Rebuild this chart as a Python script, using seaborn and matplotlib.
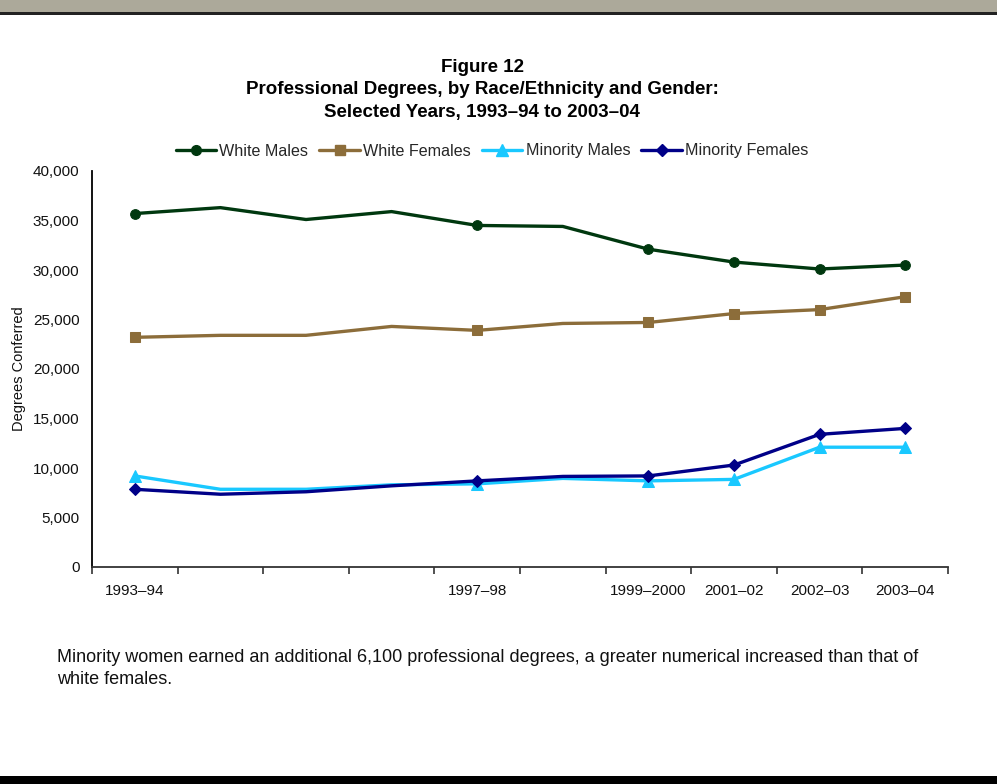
import numpy as np
import pandas as pd
import seaborn as sns
import matplotlib
matplotlib.use("Agg")
import matplotlib.pyplot as plt
from matplotlib.lines import Line2D
from matplotlib.patches import Rectangle

years = ["1993–94", "1994–95", "1995–96", "1996–97", "1997–98", "1998–99",
         "1999–2000", "2001–02", "2002–03", "2003–04"]
shown_labels = ["1993–94", "", "", "", "1997–98", "", "1999–2000", "2001–02", "2002–03", "2003–04"]
marked_idx = [0, 4, 6, 7, 8, 9]

white_males = [35700, 36300, 35100, 35900, 34500, 34400, 32100, 30800, 30100, 30500]
white_females = [23200, 23400, 23400, 24300, 23900, 24600, 24700, 25600, 26000, 27300]
minority_males = [9200, 7850, 7850, 8300, 8400, 8950, 8700, 8850, 12100, 12100]
minority_females = [7850, 7350, 7600, 8200, 8700, 9150, 9200, 10300, 13400, 14000]

series_names = ["White Males", "White Females", "Minority Males", "Minority Females"]
colors = ["#00380f", "#8c6d3a", "#19c8ff", "#000088"]
markers = ["o", "s", "^", "D"]
msizes = [7, 7.5, 8, 6.5]

df = pd.DataFrame({
    "pos": list(range(len(years))) * 4,
    "value": white_males + white_females + minority_males + minority_females,
    "series": sum([[n] * len(years) for n in series_names], []),
})

sns.set_theme(style="white")
plt.rcParams["font.family"] = ["Liberation Sans", "DejaVu Sans"]

fig = plt.figure(figsize=(9.97, 7.84), dpi=100)
ax = fig.add_axes([92 / 997, (784 - 567) / 784, (948 - 92) / 997, (567 - 171) / 784])

for name, c, m, ms in zip(series_names, colors, markers, msizes):
    sub = df[df["series"] == name]
    sns.lineplot(data=sub, x="pos", y="value", ax=ax, color=c, lw=2.4,
                 marker=m, markersize=ms, markevery=marked_idx,
                 markeredgecolor=c, markerfacecolor=c, legend=False)

ax.set_xlim(-0.5, len(years) - 0.5)
ax.set_ylim(0, 40000)
ax.set_yticks(np.arange(0, 40001, 5000))
ax.set_yticklabels([f"{v:,}" for v in range(0, 40001, 5000)], fontsize=11, color="#111111")
ax.set_xticks(np.arange(-0.5, len(years), 1.0))
ax.set_xticklabels([])
ax.set_xticks(range(len(years)), minor=True)
ax.set_xticklabels(shown_labels, minor=True, fontsize=11, color="#111111")
ax.tick_params(axis="x", which="major", direction="out", length=5, width=1.2, color="#333333", bottom=True)
ax.tick_params(axis="x", which="minor", length=0, pad=12)
ax.tick_params(axis="y", length=0, pad=9)
ax.set_xlabel("")
ax.set_ylabel("Degrees Conferred", fontsize=10.5, color="#111111")
ax.yaxis.set_label_coords((26 - 92) / 856, 0.5)
ax.grid(False)
for s in ["top", "right"]:
    ax.spines[s].set_visible(False)
ax.spines["left"].set_color("#000000")
ax.spines["left"].set_linewidth(1.3)
ax.spines["bottom"].set_color("#333333")
ax.spines["bottom"].set_linewidth(1.3)

handles = [Line2D([0], [0], color=c, lw=2.4, marker=m, markersize=ms,
                  markerfacecolor=c, markeredgecolor=c)
           for c, m, ms in zip(colors, markers, msizes)]
fig.legend(handles, series_names, loc="center", bbox_to_anchor=(492 / 997, 1 - 151 / 784),
           ncol=4, frameon=False, fontsize=11.6, handlelength=2.5, handletextpad=0.2,
           columnspacing=0.7, borderpad=0)

for txt, y in [("Figure 12", 68),
               ("Professional Degrees, by Race/Ethnicity and Gender:", 90),
               ("Selected Years, 1993–94 to 2003–04", 112)]:
    fig.text(482 / 997, 1 - y / 784, txt, ha="center", va="center", fontsize=13.5,
             fontweight="bold", color="#000000")

fig.text(57 / 997, 1 - 658 / 784,
         "Minority women earned an additional 6,100 professional degrees, a greater numerical increased than that of",
         ha="left", va="center", fontsize=13, color="#111111")
fig.text(57 / 997, 1 - 680 / 784, "white females.",
         ha="left", va="center", fontsize=13, color="#111111")

fig.patches.append(Rectangle((0, 1 - 13 / 784), 1, 13 / 784, transform=fig.transFigure,
                             facecolor="#aca99a", edgecolor="none"))
fig.patches.append(Rectangle((0, 1 - 15 / 784), 1, 2.5 / 784, transform=fig.transFigure,
                             facecolor="#222222", edgecolor="none"))
fig.patches.append(Rectangle((0, 0), 1, 8 / 784, transform=fig.transFigure,
                             facecolor="#000000", edgecolor="none"))

fig.savefig("out.png", dpi=100)
